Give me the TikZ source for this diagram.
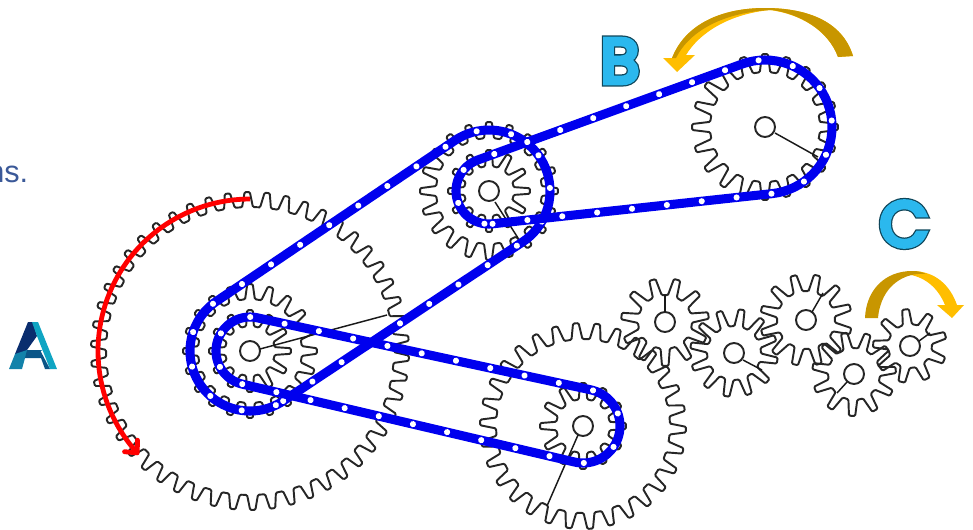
\documentclass[tikz,border=0pt]{standalone}
\usepackage{fontspec}
\usetikzlibrary{arrows.meta,decorations.markings}
\newfontfamily\letterfont{Poppins}[FakeBold=8]
\newfontfamily\letteredgefont{Poppins}[FakeBold=12]
\setmainfont{Liberation Sans}

\def \driveCenterX{250}
\def \driveCenterY{351}
\def \topCenterX{489}
\def \topCenterY{191}
\def \farCenterX{765}
\def \farCenterY{127}
\def \lowCenterX{583}
\def \lowCenterY{426}
\def \hubRadius{10}

\definecolor{chainBlue}{RGB}{0,0,238}
\definecolor{goldDark}{RGB}{200,150,0}
\definecolor{goldLight}{RGB}{255,190,0}
\definecolor{letterBlue}{RGB}{43,184,238}
\definecolor{letterEdge}{RGB}{15,70,90}
\definecolor{textBlue}{RGB}{59,89,152}
\definecolor{logoNavy}{RGB}{10,45,110}
\definecolor{logoTeal}{RGB}{15,165,195}
\definecolor{logoMid}{RGB}{18,130,170}
\definecolor{logoDeep}{RGB}{10,85,135}

\tikzset{
  gearline/.style={draw=black!85, line width=1.45pt, line join=round, rounded corners=0.9pt},
  spokeline/.style={draw=black!90, line width=1.1pt},
  chainline/.style={draw=chainBlue, line width=6.8pt, line join=round,
    postaction={decorate, decoration={markings,
      mark=between positions 0 and 1 step 26.3pt with {\fill[white] (0,0) circle [radius=2.3pt];}}}},
  letterlabel/.style={font=\fontsize{47}{47}\selectfont, inner sep=0pt},
}

% dark wide copy under the blue one
\newcommand{\outlinedLetter}[1]{\makebox[0pt]{\textcolor{letterEdge}{\letteredgefont #1}}\makebox[0pt]{\textcolor{letterBlue}{\letterfont #1}}}

% #1 #2 center, #3 tip radius, #4 root radius, #5 teeth, #6 rotation
\newcommand{\drawGear}[6]{
  \pgfmathsetmacro\gearPitch{360/#5}
  \draw[gearline] ({#1+#4*cos(#6-0.3*\gearPitch)},{#2+#4*sin(#6-0.3*\gearPitch)})
    \foreach \i [evaluate=\i as \a using {#6+\i*\gearPitch}] in {0,...,#5}{
      -- ({#1+#3*cos(\a-0.13*\gearPitch)},{#2+#3*sin(\a-0.13*\gearPitch)})
      -- ({#1+#3*cos(\a+0.13*\gearPitch)},{#2+#3*sin(\a+0.13*\gearPitch)})
      -- ({#1+#4*cos(\a+0.3*\gearPitch)},{#2+#4*sin(\a+0.3*\gearPitch)})
      -- ({#1+#4*cos(\a+0.7*\gearPitch)},{#2+#4*sin(\a+0.7*\gearPitch)})
    };
}

% #1 #2 #3 first wheel, #4 #5 #6 second wheel
\newcommand{\drawChain}[6]{
  \pgfmathsetmacro\chainBase{atan2(#5-#2,#4-#1)}
  \pgfmathsetmacro\chainOpen{acos((#3-#6)/veclen(#4-#1,#5-#2))}
  \pgfmathsetmacro\chainA{\chainBase+\chainOpen}
  \pgfmathsetmacro\chainB{\chainBase-\chainOpen}
  \pgfmathsetmacro\chainC{\chainA-360}
  \draw[chainline] ({#1+#3*cos(\chainA)},{#2+#3*sin(\chainA)})
    -- plot[domain=\chainA:\chainB,samples=40] ({#4+#6*cos(\x)},{#5+#6*sin(\x)})
    -- plot[domain=\chainB:\chainC,samples=60] ({#1+#3*cos(\x)},{#2+#3*sin(\x)})
    -- cycle;
}

\begin{document}
\begin{tikzpicture}[x=0.75pt,y=-0.75pt]
\useasboundingbox (0,0) rectangle (973,529);

% ---- Gears
% ---- Drive shaft
\drawGear{\driveCenterX}{\driveCenterY}{159}{144}{50}{-91}
\drawGear{\driveCenterX}{\driveCenterY}{67}{52}{20}{-90}
\drawGear{\driveCenterX}{\driveCenterY}{41}{25}{12}{0}
% ---- Top shaft
\drawGear{\topCenterX}{\topCenterY}{69}{53}{20}{0}
\drawGear{\topCenterX}{\topCenterY}{41}{25}{12}{0}
% ---- Far shaft
\drawGear{\farCenterX}{\farCenterY}{73}{55}{20}{0}
% ---- Low shaft
\drawGear{\lowCenterX}{\lowCenterY}{103}{87}{30}{2}
\drawGear{\lowCenterX}{\lowCenterY}{43}{27}{12}{0}
% ---- Gear train
\drawGear{665}{322}{44}{27}{11}{-74}
\drawGear{734}{353}{44}{27}{12}{-80}
\drawGear{806}{320}{46}{29}{12}{-76}
\drawGear{854}{374}{42}{26}{11}{-71}
\drawGear{910}{346}{37}{22}{9}{-57}

% ---- Hubs
\foreach \hubX/\hubY in {\driveCenterX/\driveCenterY,\topCenterX/\topCenterY,\farCenterX/\farCenterY,\lowCenterX/\lowCenterY,665/322,734/353,806/320,854/374,910/346}
  \draw[gearline] (\hubX,\hubY) circle [radius=\hubRadius];

% ---- Spokes
\draw[spokeline] (260,349) -- (387,315);
\draw[spokeline] (495,202) -- (518,238);
\draw[spokeline] (775,133) -- (818,157);
\draw[spokeline] (578,435) -- (547,506);
\draw[spokeline] (665,312) -- (665,295);
\draw[spokeline] (743,360) -- (762,370);
\draw[spokeline] (812,312) -- (823,293);
\draw[spokeline] (847,382) -- (837,393);
\draw[spokeline] (919,341) -- (930,333);

% ---- Chains
\drawChain{\driveCenterX}{\driveCenterY}{60}{\topCenterX}{\topCenterY}{61}
\drawChain{\driveCenterX}{\driveCenterY}{34}{\lowCenterX}{\lowCenterY}{37}
\drawChain{\topCenterX}{\topCenterY}{33}{\farCenterX}{\farCenterY}{67}

% ---- Red rotation arrow
\draw[draw=red, line width=3.6pt, -{Straight Barb[length=7pt,width=13pt,round]}]
  plot[domain=-90:-223,samples=60] ({\driveCenterX+152*cos(\x)},{\driveCenterY+152*sin(\x)});

% ---- Arrow B
\fill[goldLight] (853,56) .. controls (842,20) and (805,8) .. (765,8)
  .. controls (720,8) and (685,25) .. (672,58) -- (663,58) -- (677,72) -- (695,55) -- (686,55)
  .. controls (700,32) and (730,14) .. (770,10) .. controls (800,14) and (828,30) .. (838,57) -- cycle;
\fill[goldDark] (853,56) .. controls (842,20) and (805,8) .. (765,8)
  .. controls (720,8) and (685,25) .. (672,58) -- (676,58)
  .. controls (690,30) and (725,12) .. (772,10) .. controls (800,14) and (828,30) .. (838,57) -- cycle;

% ---- Arrow C
\fill[goldLight] (912,271) .. controls (935,271) and (950,285) .. (957,305) -- (964,305) -- (952,318)
  -- (937,305) -- (945,305) .. controls (938,288) and (925,276) .. (905,274) -- cycle;
\fill[goldDark] (865,318) .. controls (866,290) and (885,271) .. (912,271)
  .. controls (918,271) and (922,272) .. (926,274)
  .. controls (905,272) and (881,285) .. (878,318) -- cycle;

% ---- Logo A
\fill[logoNavy] (28,322) -- (33,322) -- (37,336) -- (27,350) -- (22,356) -- (15,354) -- cycle;
\fill[logoTeal] (32,322) -- (38,322) -- (57,369) -- (50,369) -- (37,336) -- cycle;
\fill[logoMid] (9,369) -- (22,369) -- (25,358) -- (43,350) -- (27,350) -- (15,354) -- cycle;
\fill[logoDeep] (27,350) -- (40,350) -- (43,358) -- (25,358) -- cycle;
\fill[logoDeep] (40,350) -- (50,369) -- (45,369) -- (41,358) -- cycle;

% ---- Labels
\node[letterlabel] (labelB) at (620,61) {\outlinedLetter{B}};
\node[letterlabel] (labelC) at (904,224) {\outlinedLetter{C}};
\node[anchor=base east, inner sep=0pt, text=textBlue, font=\fontsize{23}{23}\selectfont] (tailText) at (28.5,182) {ns.};
\end{tikzpicture}
\end{document}
